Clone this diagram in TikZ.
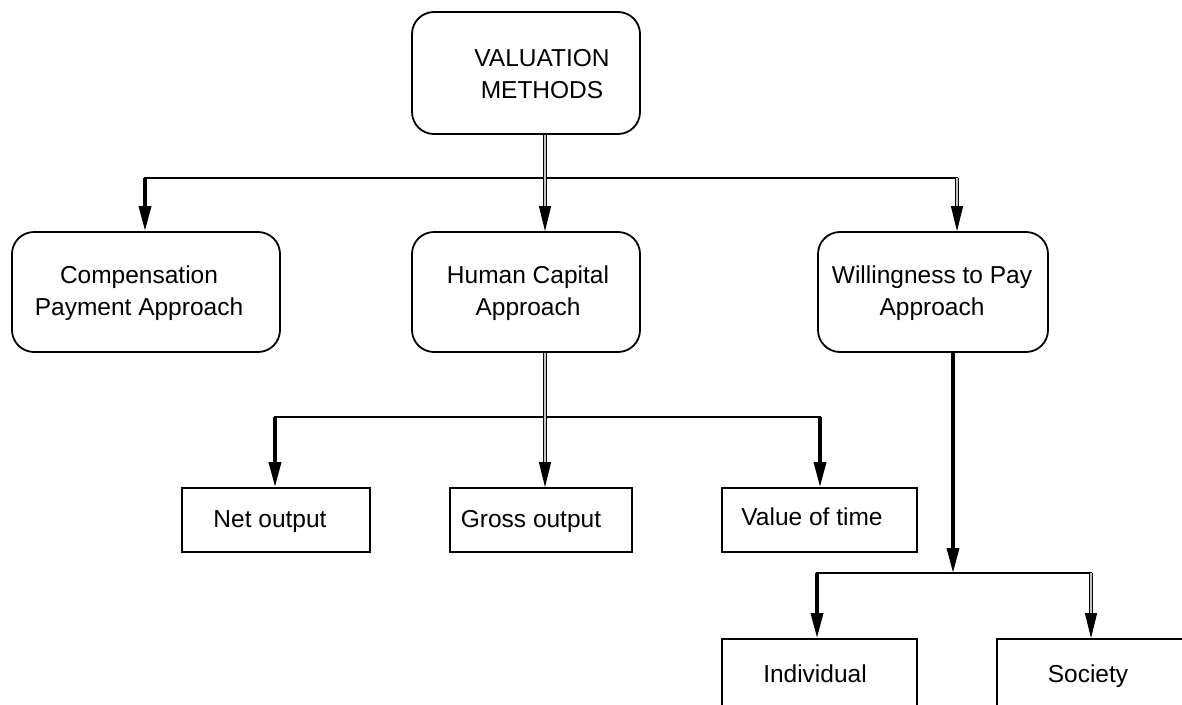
\documentclass[tikz,border=0pt]{standalone}
\usepackage{fontspec}
\setmainfont{Liberation Sans}
\usetikzlibrary{arrows.meta,calc}
\begin{document}
\begin{tikzpicture}[x=1pt,y=-1pt,
  rbox/.style={draw, line width=1.8pt, rounded corners=22pt, minimum height=120pt, inner sep=0pt},
  sbox/.style={draw, line width=1.8pt, minimum height=64pt, inner sep=0pt},
  txt/.style={align=center, inner sep=0pt, anchor=base, font=\fontsize{24.5}{32.5}\selectfont},
  bar/.style={line width=2pt, line cap=rect},
  heavy/.style={line width=3.5pt, -{Triangle[length=25pt,width=12pt]}},
  dbl/.style={line width=1.2pt, double=gray!45, double distance=1.8pt, shorten >=22pt},
  tip/.style={line width=1pt, -{Triangle[length=25pt,width=12pt]}}
]
\useasboundingbox (0,0) rectangle (1182,704);
\clip (0,0) rectangle (1182,704);
\fill[white] (0,0) rectangle (1182,704);

% boxes (two-line texts are placed by the baseline of their last line)
\node[rbox, minimum width=228pt, minimum height=122pt] (vm) at (526,73) {};
\node[txt] (vmt) at (542,98.5) {VALUATION\\METHODS};

\node[rbox, minimum width=268pt] (comp) at (146,292) {};
\node[txt] (compt) at (139,315.5) {Compensation\\Payment Approach};

\node[rbox, minimum width=228pt] (hc) at (526,292) {};
\node[txt] (hct) at (528,315.5) {Human Capital\\Approach};

\node[rbox, minimum width=230pt] (wtp) at (933,292) {};
\node[txt] (wtpt) at (932,315.5) {Willingness to Pay\\Approach};

\node[sbox, minimum width=188pt] (net) at (276,520) {};
\node[txt] (nett) at (270,527) {Net output};

\node[sbox, minimum width=182pt] (gross) at (541,520) {};
\node[txt] (grosst) at (531,527) {Gross output};

\node[sbox, minimum width=195pt] (vot) at (819.5,520) {};
\node[txt] (vott) at (812,525) {Value of time};

\node[sbox, minimum width=195pt, minimum height=90pt] (ind) at (819.5,684) {};
\node[txt] (indt) at (815,682) {Individual};

\node[sbox, minimum width=206pt, minimum height=90pt] (soc) at (1100,684) {};
\node[txt] (soct) at (1088,682) {Society};

% level 1 connectors
\coordinate (j1) at (545,178);
\coordinate (j1l) at (145,178);
\coordinate (j1r) at (957,178);
\draw[bar] (j1l) -- (j1r);
\draw[dbl] (vm.south -| j1) -- (hc.north -| j1);
\draw[tip] ($(hc.north -| j1)+(0,-25)$) -- (hc.north -| j1);
\draw[heavy] (j1l) -- (comp.north -| j1l);
\draw[dbl] (j1r) -- (wtp.north -| j1r);
\draw[tip] ($(wtp.north -| j1r)+(0,-25)$) -- (wtp.north -| j1r);

% level 2 (human capital)
\coordinate (j2) at (545,417);
\coordinate (j2l) at (275,417);
\coordinate (j2r) at (820,417);
\draw[bar] (j2l) -- (j2r);
\draw[dbl] (hc.south -| j2) -- (gross.north -| j2);
\draw[tip] ($(gross.north -| j2)+(0,-25)$) -- (gross.north -| j2);
\draw[heavy] (j2l) -- (net.north -| j2l);
\draw[heavy] (j2r) -- (vot.north -| j2r);

% level 2 (willingness to pay)
\coordinate (j3) at (953,573);
\coordinate (j3l) at (817,573);
\coordinate (j3r) at (1091,573);
\draw[heavy] (wtp.south -| j3) -- (j3);
\draw[bar] (j3l) -- (j3r);
\draw[heavy] (j3l) -- (ind.north -| j3l);
\draw[dbl] (j3r) -- (soc.north -| j3r);
\draw[tip] ($(soc.north -| j3r)+(0,-25)$) -- (soc.north -| j3r);
\end{tikzpicture}
\end{document}
